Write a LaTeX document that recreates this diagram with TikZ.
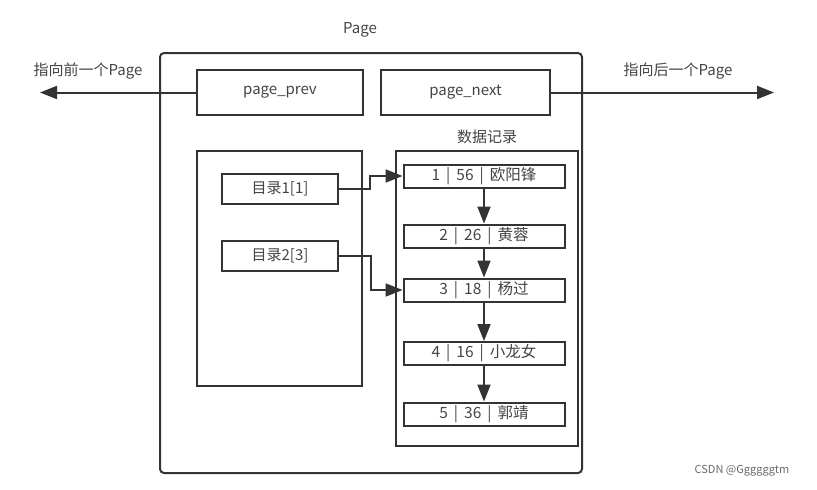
\documentclass[tikz,border=0pt]{standalone}
\usepackage{fontspec}
\setmainfont{Noto Sans CJK SC}
\usetikzlibrary{arrows.meta}
\definecolor{ln}{HTML}{333333}
\definecolor{tx}{HTML}{444444}
\begin{document}
\begin{tikzpicture}[x=1pt,y=-1pt,
  box/.style={draw=ln,line width=2pt,inner sep=0pt,font=\fontsize{15}{17}\selectfont,text=tx},
  rec/.style={box,font=\fontsize{15.5}{17}\selectfont,minimum width=161pt,minimum height=23pt},
  lbl/.style={inner sep=0pt,font=\fontsize{15}{17}\selectfont,text=tx},
  con/.style={draw=ln,line width=2pt,-{Triangle[length=17pt,width=13pt]}}]
\useasboundingbox (0,0) rectangle (817,490);
\draw[ln,line width=2pt,rounded corners=4pt] (160,53) rectangle (582,473);
\node[lbl] (pagelbl) at (360,30) {Page};
\node[box,minimum width=166pt,minimum height=45pt] (prev) at (280,92.5) {page\_prev};
\node[box,minimum width=169pt,minimum height=45pt] (next) at (465.5,92.5) {page\_next};
\coordinate (ltip) at (40,92.5);
\coordinate (rtip) at (774,92.5);
\draw[con] (prev.west) -- (ltip);
\draw[con] (next.east) -- (rtip);
\node[lbl] (prevlbl) at (88,71) {指向前一个Page};
\node[lbl] (nextlbl) at (678,71) {指向后一个Page};
\node[box,minimum width=165pt,minimum height=235pt] (dir) at (279.5,268.5) {};
\node[box,minimum width=116pt,minimum height=30pt] (d1) at (280,189) {目录1[1]};
\node[box,minimum width=116pt,minimum height=30pt] (d2) at (280,256) {目录2[3]};
\node[lbl] (datalbl) at (487,137) {数据记录};
\node[box,minimum width=182pt,minimum height=295pt] (data) at (487,298.5) {};
\node[rec] (r1) at (484,176) {1 \,|\, 56 \,|\, 欧阳锋};
\node[rec] (r2) at (484,236) {2 \,|\, 26 \,|\, 黄蓉};
\node[rec] (r3) at (484,290) {3 \,|\, 18 \,|\, 杨过};
\node[rec] (r4) at (484,353.5) {4 \,|\, 16 \,|\, 小龙女};
\node[rec] (r5) at (484,414) {5 \,|\, 36 \,|\, 郭靖};
\draw[con] (r1) -- (r2);
\draw[con] (r2) -- (r3);
\draw[con] (r3) -- (r4);
\draw[con] (r4) -- (r5);
\draw[con] (d1.east) -- (370,189) -- (370,176) -- (r1.west);
\draw[con] (d2.east) -- (371,256) -- (371,290) -- (r3.west);
\node[inner sep=0pt,font=\fontsize{11}{13}\selectfont,text=tx!80] (wm) at (742,471) {CSDN @Ggggggtm};
\end{tikzpicture}
\end{document}
